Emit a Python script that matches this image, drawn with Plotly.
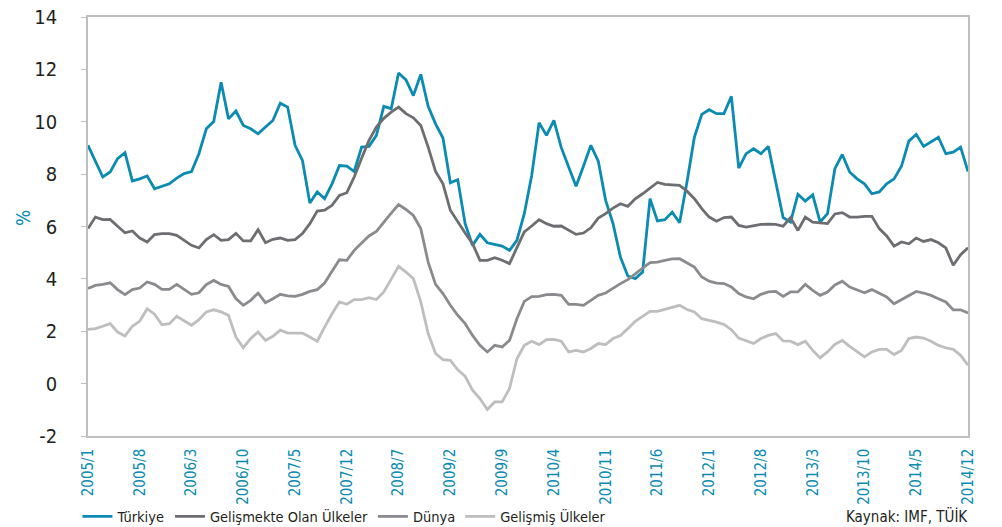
import plotly.graph_objects as go

# Categories: monthly, 2005/1 .. 2014/12
months = [f"{y}/{m}" for y in range(2005, 2015) for m in range(1, 13)]
tick_labels = months[0:120:7] + ["2014/12"]
y_ticks = [-2, 0, 2, 4, 6, 8, 10, 12, 14]
y_tick_text = ["-2", "0", "2", "4", "6", "8", "10", "12", "14"]

turkiye = [9.10, 8.52, 7.89, 8.08, 8.59, 8.82, 7.74, 7.82, 7.93, 7.44, 7.54, 7.63,
           7.85, 8.02, 8.10, 8.78, 9.73, 10.01, 11.51, 10.11, 10.41, 9.86, 9.73, 9.54,
           9.80, 10.05, 10.71, 10.56, 9.10, 8.52, 6.90, 7.32, 7.06, 7.63, 8.33, 8.31,
           8.10, 9.03, 9.06, 9.48, 10.59, 10.50, 11.86, 11.60, 11.00, 11.81, 10.59, 9.92,
           9.38, 7.67, 7.79, 6.11, 5.28, 5.70, 5.38, 5.31, 5.25, 5.09, 5.47, 6.49,
           7.95, 9.96, 9.48, 10.05, 9.01, 8.27, 7.54, 8.30, 9.10, 8.50, 7.00, 6.11,
           4.83, 4.11, 4.01, 4.26, 7.06, 6.21, 6.26, 6.55, 6.14, 7.70, 9.41, 10.28,
           10.46, 10.31, 10.31, 10.97, 8.23, 8.78, 8.97, 8.78, 9.06, 7.70, 6.34, 6.17,
           7.23, 6.97, 7.21, 6.17, 6.49, 8.21, 8.75, 8.08, 7.82, 7.63, 7.25, 7.32,
           7.63, 7.82, 8.30, 9.26, 9.52, 9.06, 9.22, 9.41, 8.78, 8.84, 9.03, 8.10]

gelismekte = [5.92, 6.36, 6.26, 6.27, 6.01, 5.76, 5.83, 5.56, 5.41, 5.69, 5.73, 5.73,
              5.66, 5.47, 5.28, 5.18, 5.50, 5.69, 5.47, 5.50, 5.74, 5.45, 5.45, 5.88,
              5.38, 5.51, 5.56, 5.47, 5.50, 5.73, 6.11, 6.59, 6.62, 6.81, 7.19, 7.29,
              7.89, 8.61, 9.29, 9.80, 10.13, 10.37, 10.56, 10.31, 10.15, 9.86, 9.03, 8.10,
              7.63, 6.62, 6.17, 5.75, 5.34, 4.71, 4.71, 4.81, 4.71, 4.58, 5.19, 5.79,
              6.02, 6.26, 6.11, 6.01, 6.02, 5.85, 5.70, 5.75, 5.95, 6.32, 6.49, 6.70,
              6.87, 6.77, 7.06, 7.25, 7.47, 7.68, 7.61, 7.58, 7.57, 7.35, 7.06, 6.68,
              6.36, 6.20, 6.34, 6.36, 6.04, 5.98, 6.02, 6.08, 6.09, 6.08, 6.01, 6.34,
              5.85, 6.36, 6.17, 6.15, 6.11, 6.48, 6.53, 6.36, 6.36, 6.39, 6.39, 5.92,
              5.64, 5.25, 5.41, 5.34, 5.56, 5.43, 5.50, 5.38, 5.18, 4.52, 4.92, 5.19]

dunya = [3.63, 3.75, 3.79, 3.85, 3.59, 3.40, 3.59, 3.65, 3.88, 3.79, 3.60, 3.60,
         3.79, 3.60, 3.41, 3.47, 3.78, 3.94, 3.79, 3.71, 3.25, 2.99, 3.18, 3.46,
         3.09, 3.24, 3.41, 3.35, 3.33, 3.41, 3.52, 3.59, 3.84, 4.29, 4.73, 4.71,
         5.09, 5.37, 5.64, 5.81, 6.17, 6.51, 6.84, 6.65, 6.42, 5.92, 4.64, 3.79,
         3.44, 2.99, 2.61, 2.29, 1.84, 1.46, 1.21, 1.46, 1.40, 1.65, 2.48, 3.14,
         3.32, 3.33, 3.40, 3.41, 3.37, 3.03, 3.03, 2.99, 3.18, 3.37, 3.46, 3.65,
         3.82, 3.97, 4.20, 4.41, 4.62, 4.64, 4.71, 4.76, 4.77, 4.60, 4.45, 4.07,
         3.91, 3.84, 3.82, 3.69, 3.44, 3.31, 3.24, 3.41, 3.50, 3.52, 3.33, 3.50,
         3.50, 3.79, 3.56, 3.37, 3.50, 3.77, 3.91, 3.69, 3.59, 3.47, 3.59, 3.44,
         3.31, 3.05, 3.21, 3.37, 3.52, 3.46, 3.37, 3.24, 3.12, 2.82, 2.82, 2.70]

gelismis = [2.07, 2.10, 2.19, 2.29, 1.97, 1.82, 2.19, 2.39, 2.86, 2.65, 2.25, 2.29,
            2.57, 2.39, 2.23, 2.44, 2.74, 2.82, 2.74, 2.61, 1.78, 1.37, 1.72, 1.97,
            1.65, 1.81, 2.04, 1.93, 1.93, 1.93, 1.78, 1.62, 2.16, 2.67, 3.12, 3.03,
            3.21, 3.21, 3.28, 3.21, 3.50, 4.01, 4.48, 4.26, 4.01, 3.12, 1.91, 1.15,
            0.92, 0.89, 0.53, 0.28, -0.25, -0.57, -0.99, -0.70, -0.70, -0.19, 0.95, 1.46,
            1.62, 1.49, 1.68, 1.69, 1.62, 1.21, 1.27, 1.21, 1.34, 1.53, 1.49, 1.72,
            1.84, 2.10, 2.38, 2.57, 2.76, 2.76, 2.84, 2.93, 2.99, 2.83, 2.74, 2.48,
            2.42, 2.35, 2.26, 2.06, 1.74, 1.62, 1.53, 1.72, 1.84, 1.91, 1.63, 1.62,
            1.49, 1.62, 1.27, 0.98, 1.21, 1.50, 1.65, 1.42, 1.21, 1.02, 1.21, 1.31,
            1.31, 1.11, 1.27, 1.72, 1.78, 1.74, 1.62, 1.46, 1.37, 1.31, 1.08, 0.70]

series = [
    ("Türkiye", turkiye, "#0b8bb2"),
    ("Gelişmekte Olan Ülkeler", gelismekte, "#6d6e71"),
    ("Dünya", dunya, "#8a8b8e"),
    ("Gelişmiş Ülkeler", gelismis, "#bdbec0"),
]

FONT = "Liberation Sans Narrow, DejaVu Sans Condensed, Arial Narrow, sans-serif"
TEAL = "#0b8bb2"
INK = "#231f20"

fig = go.Figure()
for name, vals, color in series:
    fig.add_trace(go.Scatter(x=months, y=vals, mode="lines", name=name,
                             line=dict(color=color, width=2.8)))

fig.update_layout(
    width=1002, height=527,
    margin=dict(l=88, r=34, t=17, b=91, autoexpand=False),
    paper_bgcolor="white", plot_bgcolor="white",
    font=dict(family=FONT, color=INK),
    showlegend=True,
    legend=dict(orientation="h", x=-0.012, xanchor="left", y=-0.192, yanchor="middle",
                font=dict(family=FONT, size=14.5, color=INK),
                itemwidth=30, tracegroupgap=0, bgcolor="rgba(0,0,0,0)"),
    annotations=[
        dict(text="Kaynak: IMF, TÜİK", xref="paper", yref="paper", x=1.002, y=-0.192,
             xanchor="right", yanchor="middle", showarrow=False,
             font=dict(family=FONT, size=15, color=INK)),
        dict(text="%", xref="paper", yref="paper", x=-0.074, y=0.52,
             xanchor="center", yanchor="middle", showarrow=False, textangle=-90,
             font=dict(family=FONT, size=19, color=TEAL)),
    ],
)

fig.update_xaxes(
    type="category", range=[0, 119], automargin=False,
    tickmode="array", tickvals=tick_labels, ticktext=tick_labels,
    tickangle=-90, tickfont=dict(family=FONT, size=15, color=TEAL),
    ticks="", showgrid=False, zeroline=False,
    showline=True, linecolor="#bfbfbf", linewidth=1.5, mirror=True,
    ticklabelstandoff=5,
)
fig.update_yaxes(
    range=[-2, 14], automargin=False,
    tickmode="array", tickvals=y_ticks, ticktext=y_tick_text,
    tickfont=dict(family=FONT, size=20, color=INK),
    ticks="outside", ticklen=5, tickcolor="#bfbfbf", tickwidth=1.2,
    showgrid=False, zeroline=False,
    showline=True, linecolor="#bfbfbf", linewidth=1.5, mirror=True,
    ticklabelstandoff=20,
)

fig.write_html("out.html", config={"displayModeBar": False},
               post_script="document.body.style.margin='0';document.body.style.overflow='hidden';")
